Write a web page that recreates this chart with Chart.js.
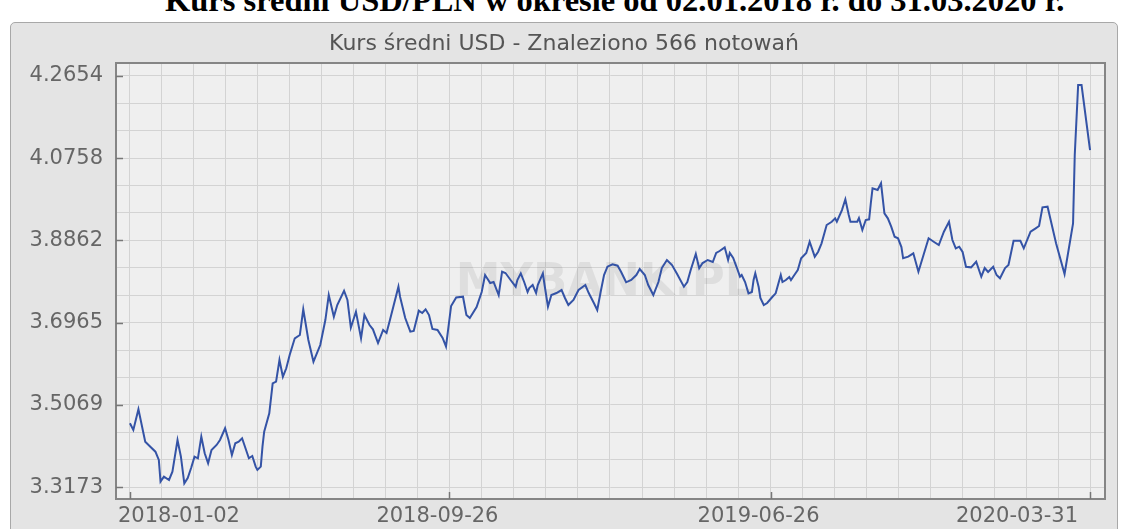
<!DOCTYPE html>
<html lang="pl">
<head>
  <meta charset="utf-8">
  <title>Kurs średni USD/PLN</title>
  <script src="https://cdn.jsdelivr.net/npm/chart.js@4.4.1/dist/chart.umd.min.js"></script>
  <style>
    html, body { margin: 0; padding: 0; background: #fff; overflow: hidden; }
    #wrap { position: relative; width: 1128px; height: 529px; overflow: hidden; }
    h1 { position: absolute; left: 165px; top: -16px; margin: 0; font: bold 32.5px/32.5px "Liberation Serif", "Times New Roman", serif; white-space: nowrap; color: #000; }
    #panel { position: absolute; left: 10px; top: 22px; width: 1106px; height: 540px; background: #e4e4e4; border: 1px solid #a8a8a8; border-radius: 5px; }
    #chart { position: absolute; left: 0; top: 0; }
  </style>
</head>
<body>
<div id="wrap">
  <h1>Kurs średni USD/PLN w okresie od 02.01.2018 r. do 31.03.2020 r.</h1>
  <div id="panel"></div>
  <canvas id="chart" width="1128" height="529"></canvas>
</div>

<script>
// numer sesji (0 = 2018-01-02, 565 = 2020-03-31) i kurs sredni
const sesja = [
  0,2,5,9,12,15,17,18,20,23,
  25,28,30,32,34,36,38,40,42,44,
  46,48,51,53,56,58,60,62,64,66,
  67,70,72,74,75,77,78,79,82,84,
  86,88,90,92,94,97,100,102,105,108,
  112,115,117,120,122,126,128,130,133,136,
  138,141,143,146,149,151,153,158,159,162,
  165,167,170,172,174,176,178,181,184,186,
  189,192,196,198,200,204,207,209,212,214,
  217,219,221,224,227,228,230,232,234,235,
  237,239,240,243,244,246,248,251,254,256,
  258,261,264,268,270,273,275,277,279,281,
  284,287,289,292,295,298,300,303,305,308,
  311,313,316,319,322,326,328,330,333,335,
  337,340,343,345,347,350,352,353,355,357,
  359,360,362,364,366,367,368,370,371,373,
  375,378,380,383,384,386,388,389,391,393,
  395,398,400,403,405,407,410,413,415,416,
  419,421,423,424,428,429,431,433,435,436,
  437,440,442,444,446,448,450,452,454,455,
  458,461,464,467,470,473,476,479,482,484,
  486,488,490,492,495,498,501,503,505,508,
  510,512,515,517,520,524,526,530,533,535,
  537,540,545,550,555,556,558,560,565
];
const kurs = [
  3.4647,3.4493,3.4970,3.4224,3.4108,3.3993,3.3802,3.3302,3.3417,3.3341,
  3.3532,3.4263,3.3878,3.3265,3.3387,3.3618,3.3878,3.3841,3.4339,3.3956,
  3.3726,3.4032,3.4148,3.4263,3.4532,3.4263,3.3917,3.4187,3.4224,3.4302,
  3.4187,3.3841,3.3894,3.3648,3.3572,3.3648,3.4108,3.4454,3.4878,3.5569,
  3.5606,3.6106,3.5721,3.5915,3.6221,3.6606,3.6682,3.7274,3.6567,3.6067,
  3.6451,3.7027,3.7603,3.7103,3.7373,3.7702,3.7488,3.6850,3.7219,3.6606,
  3.7142,3.6912,3.6813,3.6497,3.6797,3.6728,3.7027,3.7794,3.7557,3.7073,
  3.6758,3.6774,3.7242,3.7189,3.7274,3.7142,3.6820,3.6797,3.6613,3.6417,
  3.7350,3.7546,3.7564,3.7142,3.7073,3.7327,3.7672,3.8064,3.7880,3.7903,
  3.7603,3.8140,3.8110,3.7949,3.7794,3.7949,3.8103,3.7903,3.7672,3.7765,
  3.7834,3.7649,3.7834,3.8103,3.7834,3.7334,3.7603,3.7649,3.7718,3.7534,
  3.7373,3.7488,3.7718,3.7834,3.7649,3.7419,3.7258,3.7672,3.8064,3.8255,
  3.8311,3.8278,3.8140,3.7896,3.7949,3.8064,3.8202,3.8064,3.7834,3.7603,
  3.7903,3.8225,3.8410,3.8294,3.8087,3.7794,3.7903,3.8179,3.8548,3.8218,
  3.8340,3.8410,3.8364,3.8571,3.8617,3.8702,3.8410,3.8571,3.8456,3.8248,
  3.8025,3.8064,3.7903,3.7642,3.7672,3.7949,3.8103,3.7788,3.7534,3.7373,
  3.7419,3.7557,3.7642,3.8064,3.7903,3.7949,3.8018,3.7949,3.8064,3.8179,
  3.8449,3.8571,3.8831,3.8486,3.8601,3.8794,3.9216,3.9292,3.9370,3.9292,
  3.9561,3.9808,3.9446,3.9292,3.9292,3.9377,3.9101,3.9331,3.9347,3.9723,
  4.0061,4.0022,4.0177,3.9485,3.9370,3.9177,3.8946,3.8910,3.8709,3.8449,
  3.8486,3.8564,3.8140,3.8525,3.8910,3.8831,3.8755,3.9062,3.9292,3.8870,
  3.8679,3.8716,3.8594,3.8255,3.8241,3.8370,3.8025,3.8225,3.8133,3.8255,
  3.8064,3.7988,3.8225,3.8294,3.8854,3.8854,3.8679,3.9062,3.9140,3.9193,
  3.9624,3.9638,3.8794,3.8087,3.9255,4.0829,4.2441,4.2441,4.0944
];

// opisy osi
const etykietyX = ['2018-01-02', '2018-09-26', '2019-06-26', '2020-03-31'];
const sesjeX = [0, 188, 377, 565];
const etykietyY = ['3.3173', '3.5069', '3.6965', '3.8862', '4.0758', '4.2654'];
const wartosciY = etykietyY.map(Number);

// linie siatki: 10 pol miedzy datami, 3 pola miedzy wartosciami
const siatkaX = [];
for (let i = 0; i < sesjeX.length - 1; i++) {
  for (let k = 0; k < 10; k++) siatkaX.push(sesjeX[i] + (sesjeX[i + 1] - sesjeX[i]) * k / 10);
}
siatkaX.push(sesjeX[sesjeX.length - 1]);
const siatkaY = [];
for (let i = 0; i < wartosciY.length - 1; i++) {
  for (let k = 0; k < 3; k++) siatkaY.push(wartosciY[i] + (wartosciY[i + 1] - wartosciY[i]) * k / 3);
}
siatkaY.push(wartosciY[wartosciY.length - 1]);

const tlo = {
  id: 'tlo',
  beforeDraw(chart) {
    const {ctx, chartArea: a} = chart;
    ctx.save();
    ctx.fillStyle = '#efefef';
    ctx.fillRect(a.left, a.top, a.right - a.left, a.bottom - a.top);
    ctx.restore();
  },
  beforeDatasetsDraw(chart) { // znak wodny
    const {ctx, chartArea: a} = chart;
    ctx.save();
    ctx.fillStyle = 'rgba(0,0,0,0.07)';
    ctx.font = 'bold 45px "DejaVu Sans"';
    ctx.textAlign = 'center';
    ctx.textBaseline = 'middle';
    ctx.fillText('MYBANK.PL', a.left + (a.right - a.left) * 0.494, a.top + (a.bottom - a.top) * 0.505);
    ctx.restore();
  },
  afterDatasetsDraw(chart) { // ramka i kreski przy opisach
    const {ctx, chartArea: a, scales} = chart;
    ctx.save();
    ctx.strokeStyle = '#858585';
    ctx.lineWidth = 2;
    ctx.strokeRect(a.left, a.top, a.right - a.left, a.bottom - a.top);
    ctx.lineWidth = 1.5;
    ctx.strokeStyle = '#777';
    ctx.beginPath();
    wartosciY.forEach(v => {
      const y = Math.round(scales.y.getPixelForValue(v)) + 0.5;
      ctx.moveTo(a.left, y); ctx.lineTo(a.left + 7, y);
    });
    sesjeX.forEach(v => {
      const x = Math.round(scales.x.getPixelForValue(v)) + 0.5;
      ctx.moveTo(x, a.bottom); ctx.lineTo(x, a.bottom - 7);
    });
    ctx.stroke();
    ctx.restore();
  }
};

const ctx = document.getElementById('chart').getContext('2d');
const chart = new Chart(ctx, {
  type: 'line',
  data: {
    datasets: [{
      label: 'Kurs średni USD',
      data: sesja.map((d, i) => ({x: d, y: kurs[i]})),
      borderColor: '#3453a6',
      borderWidth: 2,
      pointRadius: 0,
      tension: 0,
      fill: false
    }]
  },
  options: {
    responsive: false,
    animation: false,
    devicePixelRatio: 1,
    layout: { padding: { left: 23, right: 23, top: 0, bottom: 0 } },
    plugins: {
      legend: { display: false },
      tooltip: { enabled: false },
      title: {
        display: true,
        text: 'Kurs średni USD - Znaleziono 566 notowań',
        color: '#555',
        font: { family: 'DejaVu Sans', size: 22, weight: 'normal' },
        padding: { top: 31, bottom: 5.6 }
      }
    },
    scales: {
      x: {
        type: 'linear',
        min: -8.2,
        max: 573.8,
        afterBuildTicks: s => { s.ticks = siatkaX.map(v => ({value: v})); },
        afterFit: s => { s.height = 30; },
        grid: { color: '#d3d3d3', lineWidth: 1, drawTicks: false },
        border: { display: false },
        ticks: {
          autoSkip: false,
          maxRotation: 0,
          align: 'inner',
          labelOffset: -12,
          padding: 5,
          color: '#666',
          font: { family: 'DejaVu Sans', size: 21 },
          callback: v => { const i = sesjeX.indexOf(v); return i < 0 ? '' : etykietyX[i]; }
        }
      },
      y: {
        type: 'linear',
        min: 3.2903,
        max: 4.2949,
        afterBuildTicks: s => { s.ticks = siatkaY.map(v => ({value: v})); },
        afterFit: s => { s.width = 93; },
        grid: { color: '#d3d3d3', lineWidth: 1, drawTicks: false },
        border: { display: false },
        ticks: {
          autoSkip: false,
          padding: 13,
          color: '#666',
          font: { family: 'DejaVu Sans', size: 21 },
          callback: v => { const i = wartosciY.indexOf(v); return i < 0 ? '' : etykietyY[i]; }
        }
      }
    }
  },
  plugins: [tlo]
});
</script>
</body>
</html>
